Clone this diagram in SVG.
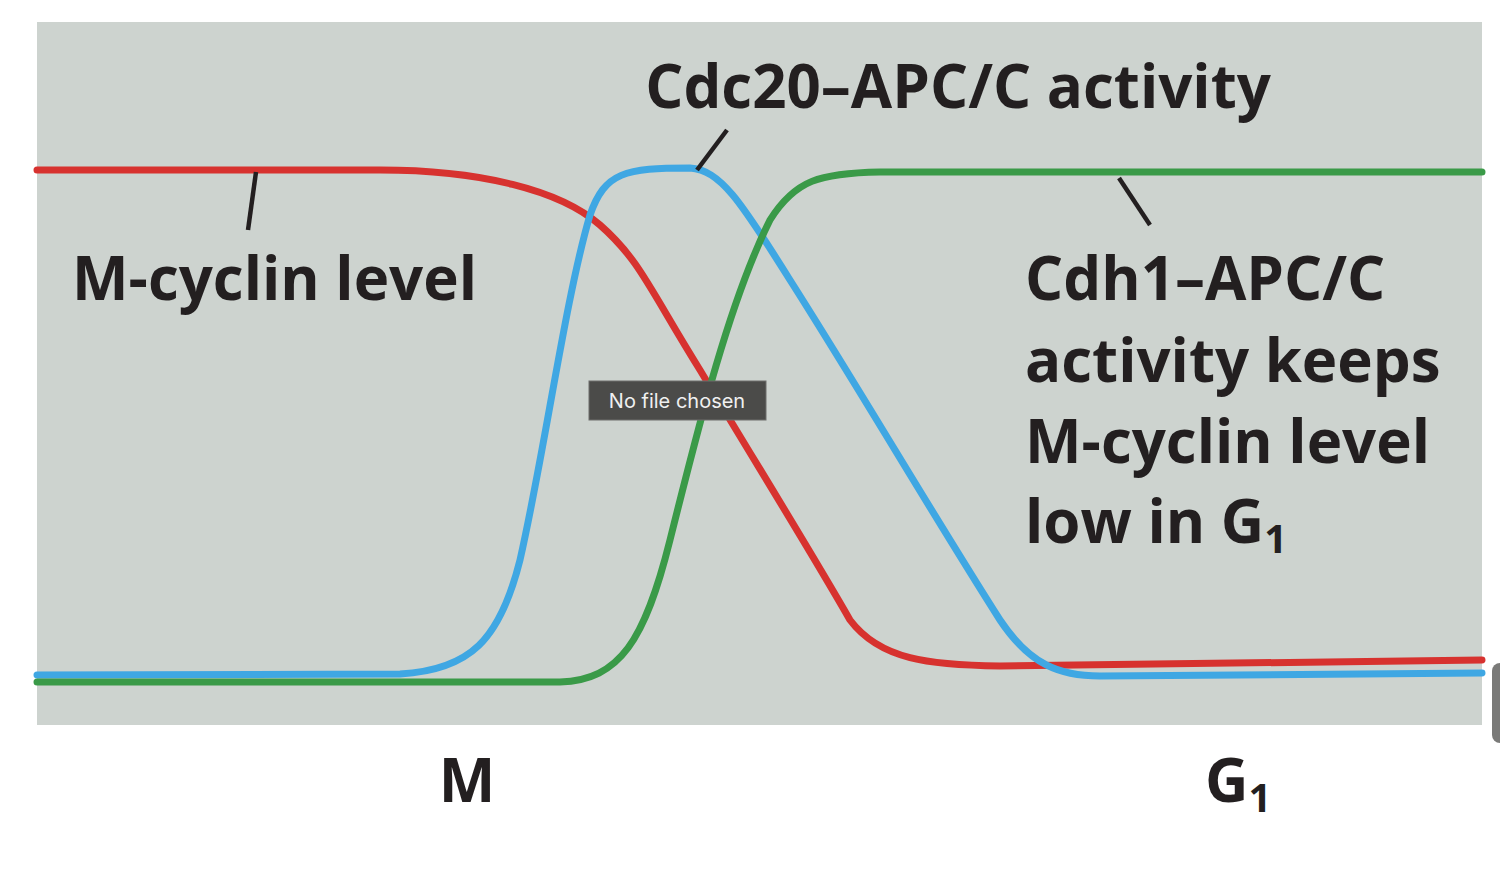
<svg xmlns="http://www.w3.org/2000/svg" width="1500" height="874" viewBox="0 0 1500 874">
<style>
.c{fill:none;stroke-width:7;stroke-linecap:round}
.t{font-family:"Open Sans","Liberation Sans",sans-serif;font-weight:bold;fill:#231f20}
.k{stroke:#231f20;stroke-width:4.5}
</style>
<rect width="1500" height="874" fill="#fff"/>
<rect x="37" y="22" width="1445" height="703" fill="#cdd3cf"/>
<g id="connectors">
<path class="c" stroke="#d7322f" d="M37,170 L380,170 C480,170 560,190 600,225 C640,260 650,290 700,370 C760,470 810,550 850,620 C880,660 930,665 1000,666 L1482,660"/>
<path class="c" stroke="#3fa7e3" d="M37,675 L400,674 C470,670 500,640 520,560 C545,450 565,300 590,215 C605,172 625,168 690,168 C720,170 740,200 790,280 C860,390 930,510 1000,620 C1030,665 1060,676 1100,676 L1482,673"/>
<path class="c" stroke="#3a9a48" d="M37,682 L560,682 C620,680 645,640 670,540 C700,420 730,300 770,220 C795,180 820,173 880,172 L1482,172"/>
<line class="k" x1="256" y1="172" x2="248" y2="230"/>
<line class="k" x1="727" y1="130" x2="697" y2="170"/>
<line class="k" x1="1119" y1="178" x2="1150" y2="225"/>
</g>
<g id="cdc20"><text class="t" x="958" y="108" font-size="60" text-anchor="middle">Cdc20–APC/C activity</text></g>
<g id="mcyclin"><text class="t" x="72" y="300" font-size="60">M-cyclin level</text></g>
<g id="cdh1"><text class="t" font-size="60"><tspan x="1025" y="300">Cdh1–APC/C</tspan><tspan x="1025" y="382">activity keeps</tspan><tspan x="1025" y="463">M-cyclin level</tspan><tspan x="1025" y="543">low in G<tspan font-size="40" dy="10">1</tspan></tspan></text></g>
<g id="axis"><text class="t" x="467" y="802" font-size="60" text-anchor="middle">M</text>
<text class="t" x="1205" y="802" font-size="60">G<tspan font-size="40" dy="10">1</tspan></text></g>
<g id="tooltip"><rect x="589" y="381" width="177" height="39" fill="#4b4b49" stroke="#6e6e6c"/>
<text x="677" y="408" font-family="Inter,'Liberation Sans',sans-serif" font-size="20" fill="#f0f0f0" text-anchor="middle">No file chosen</text></g>
<rect x="1492" y="663" width="20" height="80" rx="8" fill="#7a7a78"/>
</svg>
